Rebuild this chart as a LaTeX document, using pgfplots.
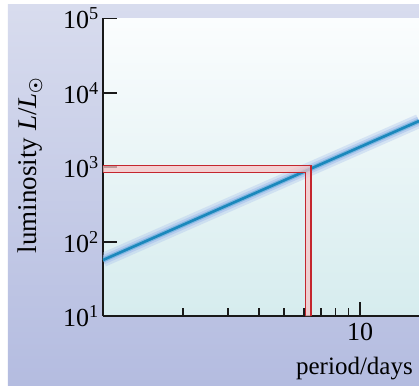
\documentclass[border=0pt]{standalone}
\usepackage{pgfplots}
\pgfplotsset{compat=1.18}
\usepackage{fontspec}
\setmainfont{Liberation Serif}
\definecolor{bgtop}{HTML}{D8DCEE}
\definecolor{bgbot}{HTML}{B4BCE0}
\definecolor{intop}{HTML}{FBFDFE}
\definecolor{inbot}{HTML}{D6ECEE}
\definecolor{lineblue}{HTML}{1A88BC}
\definecolor{glow}{HTML}{A8C0EC}
\definecolor{glow2}{HTML}{6CAEDC}
\definecolor{bandred}{HTML}{C4262E}
\definecolor{bandpink}{HTML}{F7C4C6}
\begin{document}
\begin{tikzpicture}
\path[use as bounding box] (-103pt,-69pt) rectangle (316pt,316pt);
\fill[white] (-103pt,-69pt) rectangle (316pt,316pt);
\shade[top color=bgtop, bottom color=bgbot] (-95pt,-69pt) rectangle (316pt,311pt);
\begin{axis}[
  at={(0pt,0pt)}, anchor=south west,
  scale only axis, width=316pt, height=297.5pt,
  xmode=log, ymode=log,
  xmin=0.964, xmax=17.1, ymin=10, ymax=100000,
  axis x line=bottom, axis y line=left,
  axis line style={-, line width=1.8pt, black!90},
  tick align=inside,
  xtick={10}, xticklabels={10},
  minor xtick={2,3,4,5,6,7,8,9},
  ytick={10,100,1000,10000,100000},
  minor ytick={},
  yminorticks=false,
  yticklabels={10\textsuperscript{1},10\textsuperscript{2},10\textsuperscript{3},10\textsuperscript{4},10\textsuperscript{5}},
  major tick length=14pt, minor tick length=8pt,
  every tick/.style={black!90, line width=1.8pt},
  tick label style={font=\fontsize{26}{30}\selectfont},
  yticklabel style={inner sep=1pt, xshift=-3pt},
  xticklabel style={inner sep=1pt, yshift=-6pt},
  label style={font=\fontsize{26}{30}\selectfont},
  xlabel={period/days},
  xlabel style={at={(axis description cs:0.60,-0.198)}, anchor=base west, font=\fontsize{25}{30}\selectfont},
  ylabel={luminosity \textit{L}/\textit{L}{\boldmath$_{\odot}$}},
  ylabel style={at={(axis description cs:-0.231,0.507)}, anchor=center, font=\fontsize{27}{30}\selectfont},
  axis background/.style={top color=intop, bottom color=inbot},
]
\addplot[glow, line width=14pt, opacity=0.35] coordinates {(0.964,56.6) (17.1,4180)};
\addplot[glow, line width=9pt, opacity=0.6] coordinates {(0.964,56.6) (17.1,4180)};
\addplot[glow2, line width=5pt, opacity=0.7] coordinates {(0.964,56.6) (17.1,4180)};
\addplot[lineblue, line width=2.6pt] coordinates {(0.964,56.6) (17.1,4180)};
\addplot[draw=none, fill=bandpink, fill opacity=0.75] coordinates {(0.964,1047) (6.40,1047) (6.40,10) (6.07,10) (6.07,853) (0.964,853)} -- cycle;
\addplot[bandred, line width=1.3pt] coordinates {(0.964,1047) (6.40,1047) (6.40,10)};
\addplot[bandred, line width=1.3pt] coordinates {(0.964,853) (6.07,853) (6.07,10)};
\end{axis}
\end{tikzpicture}
\end{document}
